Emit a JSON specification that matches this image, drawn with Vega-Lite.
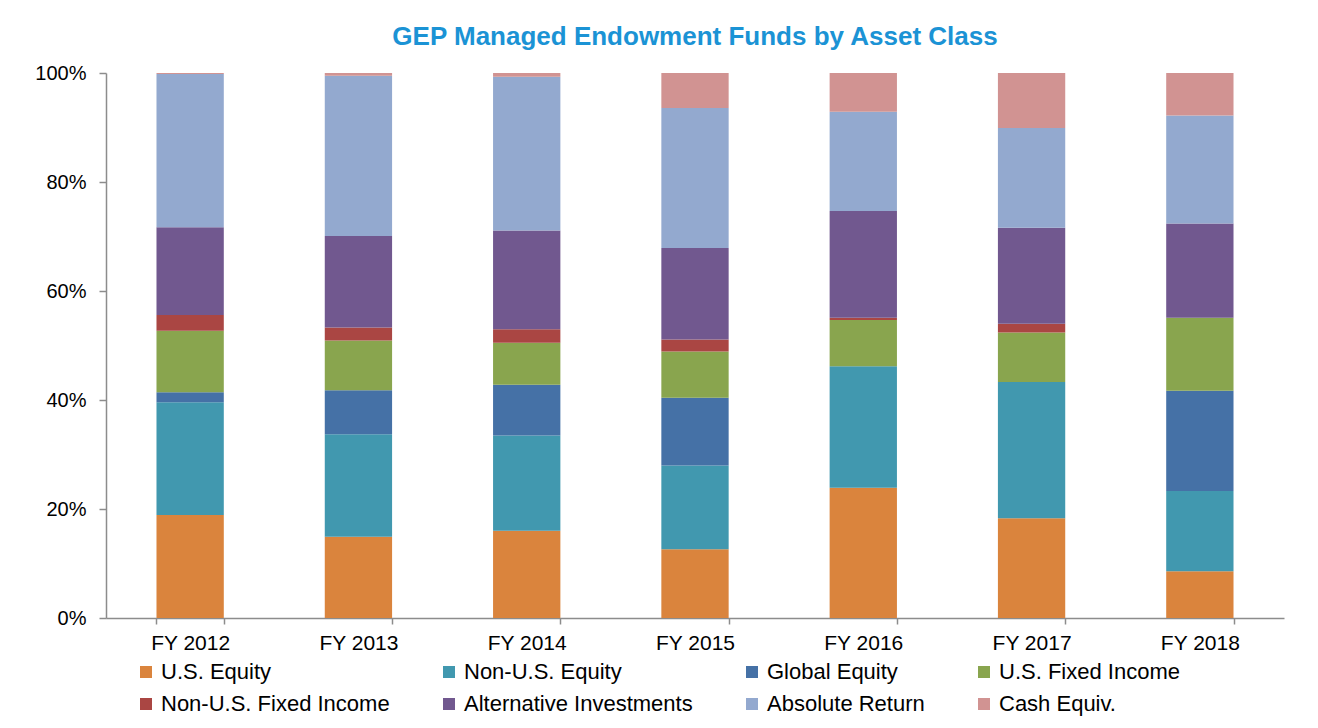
{
  "$schema": "https://vega.github.io/schema/vega-lite/v6.json",
  "width": 1178,
  "height": 545,
  "autosize": {"type": "none"},
  "padding": {"left": 106, "top": 73, "right": 34, "bottom": 110},
  "background": "white",
  "title": {
    "text": "GEP Managed Endowment Funds by Asset Class",
    "font": "Liberation Sans",
    "fontSize": 26,
    "fontWeight": "bold",
    "color": "#1B93D5",
    "anchor": "middle",
    "offset": 13
  },
  "data": {
    "values": [
      {"year": "FY 2012", "asset": "U.S. Equity", "value": 18.9},
      {"year": "FY 2012", "asset": "Non-U.S. Equity", "value": 20.7},
      {"year": "FY 2012", "asset": "Global Equity", "value": 1.8},
      {"year": "FY 2012", "asset": "U.S. Fixed Income", "value": 11.3},
      {"year": "FY 2012", "asset": "Non-U.S. Fixed Income", "value": 2.9},
      {"year": "FY 2012", "asset": "Alternative Investments", "value": 16.1},
      {"year": "FY 2012", "asset": "Absolute Return", "value": 28.1},
      {"year": "FY 2012", "asset": "Cash Equiv.", "value": 0.2},
      {"year": "FY 2013", "asset": "U.S. Equity", "value": 14.9},
      {"year": "FY 2013", "asset": "Non-U.S. Equity", "value": 18.8},
      {"year": "FY 2013", "asset": "Global Equity", "value": 8.1},
      {"year": "FY 2013", "asset": "U.S. Fixed Income", "value": 9.1},
      {"year": "FY 2013", "asset": "Non-U.S. Fixed Income", "value": 2.4},
      {"year": "FY 2013", "asset": "Alternative Investments", "value": 16.8},
      {"year": "FY 2013", "asset": "Absolute Return", "value": 29.4},
      {"year": "FY 2013", "asset": "Cash Equiv.", "value": 0.5},
      {"year": "FY 2014", "asset": "U.S. Equity", "value": 16.0},
      {"year": "FY 2014", "asset": "Non-U.S. Equity", "value": 17.5},
      {"year": "FY 2014", "asset": "Global Equity", "value": 9.3},
      {"year": "FY 2014", "asset": "U.S. Fixed Income", "value": 7.7},
      {"year": "FY 2014", "asset": "Non-U.S. Fixed Income", "value": 2.5},
      {"year": "FY 2014", "asset": "Alternative Investments", "value": 18.1},
      {"year": "FY 2014", "asset": "Absolute Return", "value": 28.2},
      {"year": "FY 2014", "asset": "Cash Equiv.", "value": 0.7},
      {"year": "FY 2015", "asset": "U.S. Equity", "value": 12.6},
      {"year": "FY 2015", "asset": "Non-U.S. Equity", "value": 15.4},
      {"year": "FY 2015", "asset": "Global Equity", "value": 12.4},
      {"year": "FY 2015", "asset": "U.S. Fixed Income", "value": 8.5},
      {"year": "FY 2015", "asset": "Non-U.S. Fixed Income", "value": 2.2},
      {"year": "FY 2015", "asset": "Alternative Investments", "value": 16.8},
      {"year": "FY 2015", "asset": "Absolute Return", "value": 25.7},
      {"year": "FY 2015", "asset": "Cash Equiv.", "value": 6.4},
      {"year": "FY 2016", "asset": "U.S. Equity", "value": 23.9},
      {"year": "FY 2016", "asset": "Non-U.S. Equity", "value": 22.3},
      {"year": "FY 2016", "asset": "U.S. Fixed Income", "value": 8.5},
      {"year": "FY 2016", "asset": "Non-U.S. Fixed Income", "value": 0.4},
      {"year": "FY 2016", "asset": "Alternative Investments", "value": 19.6},
      {"year": "FY 2016", "asset": "Absolute Return", "value": 18.2},
      {"year": "FY 2016", "asset": "Cash Equiv.", "value": 7.1},
      {"year": "FY 2017", "asset": "U.S. Equity", "value": 18.3},
      {"year": "FY 2017", "asset": "Non-U.S. Equity", "value": 25.0},
      {"year": "FY 2017", "asset": "U.S. Fixed Income", "value": 9.1},
      {"year": "FY 2017", "asset": "Non-U.S. Fixed Income", "value": 1.6},
      {"year": "FY 2017", "asset": "Alternative Investments", "value": 17.6},
      {"year": "FY 2017", "asset": "Absolute Return", "value": 18.3},
      {"year": "FY 2017", "asset": "Cash Equiv.", "value": 10.1},
      {"year": "FY 2018", "asset": "U.S. Equity", "value": 8.6},
      {"year": "FY 2018", "asset": "Non-U.S. Equity", "value": 14.7},
      {"year": "FY 2018", "asset": "Global Equity", "value": 18.4},
      {"year": "FY 2018", "asset": "U.S. Fixed Income", "value": 13.4},
      {"year": "FY 2018", "asset": "Alternative Investments", "value": 17.3},
      {"year": "FY 2018", "asset": "Absolute Return", "value": 19.8},
      {"year": "FY 2018", "asset": "Cash Equiv.", "value": 7.8}
    ]
  },
  "transform": [
    {"calculate": "indexof(['U.S. Equity', 'Non-U.S. Equity', 'Global Equity', 'U.S. Fixed Income', 'Non-U.S. Fixed Income', 'Alternative Investments', 'Absolute Return', 'Cash Equiv.'], datum.asset)", "as": "stackOrder"}
  ],
  "mark": {"type": "bar"},
  "encoding": {
    "x": {
      "field": "year",
      "type": "nominal",
      "scale": {"paddingInner": 0.6, "paddingOuter": 0.3},
      "axis": {
        "title": null,
        "labelAngle": 0,
        "labelFont": "Liberation Sans",
        "labelFontSize": 21,
        "labelColor": "#000000",
        "labelPadding": 8,
        "tickSize": 6,
        "tickBand": "extent",
        "tickColor": "#8C8C8C",
        "domainColor": "#8C8C8C",
        "domainWidth": 1.5,
        "tickWidth": 1.5
      }
    },
    "y": {
      "field": "value",
      "type": "quantitative",
      "stack": "normalize",
      "scale": {"domain": [0, 1]},
      "axis": {
        "title": null,
        "values": [0, 0.2, 0.4, 0.6, 0.8, 1],
        "format": ".0%",
        "grid": false,
        "labelFont": "Liberation Sans",
        "labelFontSize": 20,
        "labelColor": "#000000",
        "labelPadding": 13,
        "tickSize": 7,
        "tickColor": "#8C8C8C",
        "domainColor": "#8C8C8C",
        "domainWidth": 1.5,
        "tickWidth": 1.5
      }
    },
    "order": {"field": "stackOrder", "type": "quantitative", "sort": "ascending"},
    "color": {
      "field": "asset",
      "type": "nominal",
      "sort": ["U.S. Equity", "Non-U.S. Equity", "Global Equity", "U.S. Fixed Income", "Non-U.S. Fixed Income", "Alternative Investments", "Absolute Return", "Cash Equiv."],
      "scale": {
        "domain": ["U.S. Equity", "Non-U.S. Equity", "Global Equity", "U.S. Fixed Income", "Non-U.S. Fixed Income", "Alternative Investments", "Absolute Return", "Cash Equiv."],
        "range": ["#DA843D", "#4198AF", "#4571A6", "#89A54E", "#AA4643", "#71588F", "#93A9CF", "#D19392"]
      },
      "legend": {
        "title": null,
        "orient": "none",
        "legendX": 29,
        "legendY": 588,
        "direction": "horizontal",
        "columns": 4,
        "columnPadding": 48,
        "rowPadding": 10,
        "padding": 0,
        "symbolType": "square",
        "symbolSize": 144,
        "symbolStrokeWidth": 0,
        "symbolOpacity": 1,
        "labelFont": "Liberation Sans",
        "labelFontSize": 22,
        "labelColor": "#000000",
        "labelOffset": 4,
        "labelLimit": 400
      }
    }
  },
  "config": {
    "view": {"stroke": null}
  }
}
